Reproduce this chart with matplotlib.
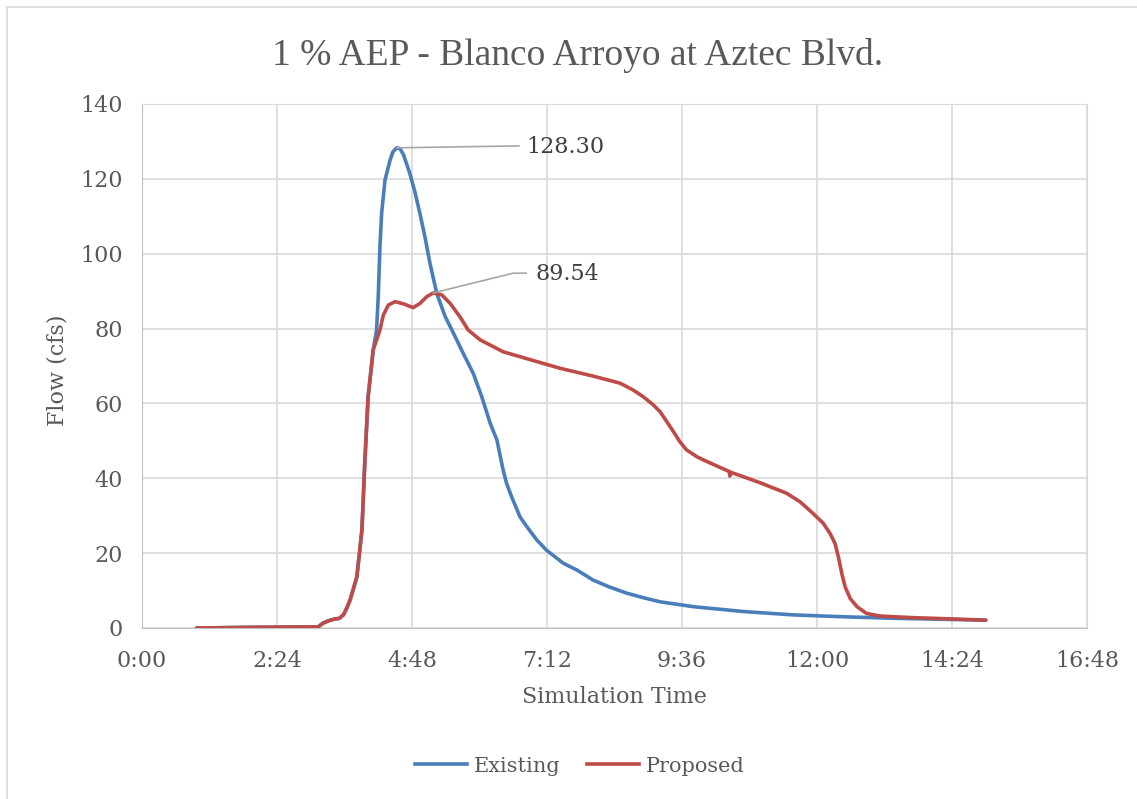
import matplotlib.pyplot as plt
from matplotlib.lines import Line2D
import numpy as np

# simulation time in hours, flow in cfs
t_existing = [0.97, 2.10, 3.13, 3.22, 3.31, 3.40, 3.51, 3.58, 3.64, 3.70, 3.82, 3.91,
              3.96, 4.02, 4.11, 4.17, 4.20, 4.23, 4.26, 4.32, 4.41, 4.46, 4.53, 4.59,
              4.65, 4.76, 4.85, 4.94, 5.03, 5.12, 5.24, 5.39, 5.51, 5.71, 5.89, 6.04,
              6.19, 6.31, 6.42, 6.48, 6.57, 6.72, 6.84, 7.02, 7.19, 7.49, 7.73, 8.02,
              8.32, 8.62, 8.91, 9.21, 9.80, 10.69, 11.58, 12.47, 13.36, 15.00]
q_existing = [0.0, 0.2, 0.3, 1.3, 1.9, 2.3, 2.6, 3.5, 5.3, 7.5, 13.7, 26.2,
              44.0, 61.8, 74.3, 79.6, 88.5, 101.9, 110.8, 119.7, 125.0, 127.2, 128.3, 128.0,
              126.4, 121.5, 116.6, 110.8, 104.5, 97.4, 89.4, 83.2, 79.6, 73.4, 68.0, 61.8,
              54.7, 50.2, 42.2, 38.7, 35.1, 29.7, 27.1, 23.5, 20.8, 17.3, 15.5, 12.8,
              10.9, 9.3, 8.1, 7.0, 5.7, 4.4, 3.5, 3.0, 2.6, 2.1]

t_proposed = [0.97, 2.10, 3.13, 3.22, 3.31, 3.40, 3.51, 3.58, 3.64, 3.70, 3.82, 3.91,
              3.96, 4.02, 4.11, 4.23, 4.29, 4.38, 4.50, 4.65, 4.82, 4.94, 5.06, 5.18,
              5.33, 5.48, 5.65, 5.80, 6.01, 6.42, 7.13, 7.43, 8.02, 8.50, 8.73, 8.91,
              9.09, 9.21, 9.33, 9.45, 9.56, 9.68, 9.86, 9.98, 10.44, 10.45, 10.47, 10.99,
              11.46, 11.70, 11.93, 12.11, 12.23, 12.32, 12.38, 12.44, 12.50, 12.59, 12.71, 12.88,
              13.12, 13.65, 15.00]
q_proposed = [0.0, 0.2, 0.3, 1.3, 1.9, 2.3, 2.6, 3.5, 5.3, 7.5, 13.7, 26.2,
              44.0, 61.8, 74.3, 79.6, 83.6, 86.3, 87.2, 86.6, 85.6, 86.7, 88.5, 89.54,
              89.0, 86.7, 83.2, 79.6, 77.0, 73.8, 70.7, 69.4, 67.3, 65.4, 63.6, 61.8,
              59.6, 57.8, 55.1, 52.4, 49.8, 47.6, 45.8, 44.9, 41.8, 40.6, 41.6, 38.8,
              36.0, 33.7, 30.6, 28.0, 25.3, 22.6, 19.0, 14.6, 11.0, 7.9, 5.7, 3.9,
              3.2, 2.8, 2.1]

xticks = np.arange(0, 16.81, 2.4)
xlabels = ["0:00", "2:24", "4:48", "7:12", "9:36", "12:00", "14:24", "16:48"]
yticks = [0, 20, 40, 60, 80, 100, 120, 140]

txt = "#595959"
blue = "#4a7ebb"
red = "#be4b48"
plt.rcParams['font.family'] = ['DejaVu Serif']

fig = plt.figure(figsize=(11.37, 7.99), dpi=100)
ax = fig.add_axes([142/1137, 1-628/799, 945/1137, 524/799])

ax.plot(t_existing, q_existing, color=blue, lw=2.6, label="Existing",
        solid_capstyle='round', solid_joinstyle='round')
ax.plot(t_proposed, q_proposed, color=red, lw=2.6, label="Proposed",
        solid_capstyle='round', solid_joinstyle='round')

ax.set_xlim(0, 16.8)
ax.set_ylim(0, 140)
ax.set_xticks(xticks)
ax.set_xticklabels(xlabels)
ax.set_yticks(yticks)
ax.grid(True, color="#d9d9d9", lw=1.2)
ax.set_axisbelow(True)
for s in ax.spines.values():
    s.set_color("#d9d9d9")
ax.spines['bottom'].set_color("#bfbfbf")
ax.spines['left'].set_color("#bfbfbf")
ax.tick_params(length=0, labelsize=16, labelcolor=txt)
ax.tick_params(axis='x', pad=16)
ax.tick_params(axis='y', pad=14)

ax.set_xlabel("Simulation Time", fontsize=16, color=txt)
ax.xaxis.set_label_coords(0.5, -0.111)
ax.set_ylabel("Flow (cfs)", fontsize=16, color=txt)
ax.yaxis.set_label_coords(-0.078, 0.492)

fig.text(0.508, 0.931, "1 % AEP - Blanco Arroyo at Aztec Blvd.", ha='center', va='center',
         fontsize=27, color=txt, family='Liberation Serif')

# data labels with leader lines
ax.plot([4.53, 6.70], [128.3, 128.8], color="#a6a6a6", lw=1.2)
ax.text(6.84, 128.6, "128.30", fontsize=16, color="#404040", va='center')
ax.plot([5.18, 6.60, 6.83], [89.54, 94.8, 94.8], color="#a6a6a6", lw=1.2)
ax.text(6.99, 94.6, "89.54", fontsize=16, color="#404040", va='center')

handles = [Line2D([], [], color=blue, lw=2.6), Line2D([], [], color=red, lw=2.6)]
leg = fig.legend(handles, ["Existing", "Proposed"], loc='center', bbox_to_anchor=(0.51, 1-766/799),
                 ncol=2, frameon=False, fontsize=15, handlelength=2.5, handletextpad=0.3,
                 columnspacing=1.3)
for t in leg.get_texts():
    t.set_color(txt)

# chart area border
fig.add_artist(Line2D([7/1137, 7/1137], [0, 1-7/799], color="#d9d9d9", lw=1.2))
fig.add_artist(Line2D([7/1137, 1], [1-7/799, 1-7/799], color="#d9d9d9", lw=1.2))

fig.savefig("out.png", dpi=100)
